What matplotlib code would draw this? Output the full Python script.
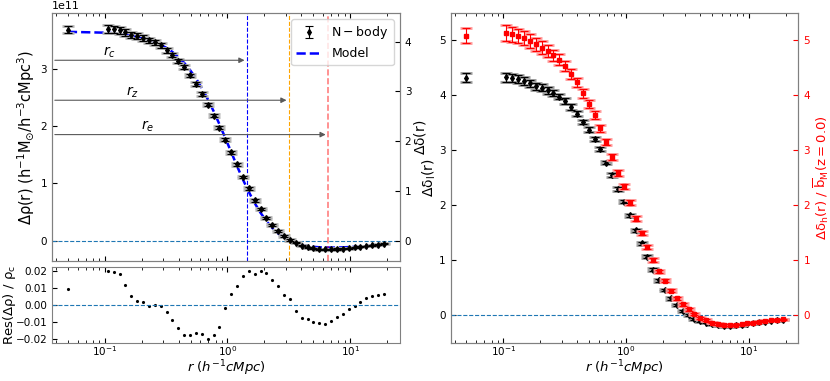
import matplotlib
matplotlib.use("Agg")
from matplotlib import pyplot as plt
from matplotlib.ticker import MultipleLocator

# radial bins (h^-1 cMpc)
r = [0.05, 0.1057, 0.1180, 0.1318, 0.1471, 0.1643, 0.1835, 0.2049, 0.2287, 0.2554,
     0.2852, 0.3184, 0.3556, 0.3970, 0.4433, 0.4950, 0.5528, 0.6172, 0.6892, 0.7696,
     0.8593, 0.9595, 1.0714, 1.1963, 1.3358, 1.4916, 1.6655, 1.8598, 2.0767, 2.3188,
     2.5892, 2.8912, 3.2284, 3.6048, 4.0252, 4.4946, 5.0187, 5.6040, 6.2575, 6.9872,
     7.8020, 8.7118, 9.7277, 10.862, 12.129, 13.543, 15.122, 16.886, 18.855]

# left panel: N-body profile, model, residuals (units of 1e11)
drho = [3.674, 3.69, 3.686, 3.67, 3.63, 3.59, 3.57, 3.53, 3.49, 3.46,
        3.41, 3.32, 3.24, 3.13, 3.02, 2.88, 2.73, 2.56, 2.37, 2.18,
        1.97, 1.76, 1.54, 1.33, 1.11, 0.913, 0.70, 0.55, 0.395, 0.267,
        0.169, 0.081, 0.012, -0.035, -0.087, -0.116, -0.134, -0.151, -0.151, -0.151,
        -0.145, -0.14, -0.134, -0.116, -0.11, -0.093, -0.081, -0.07, -0.052]
drho_err = [0.06, 0.065, 0.062, 0.06, 0.058, 0.055, 0.053, 0.05, 0.048, 0.046,
            0.044, 0.042, 0.04, 0.038, 0.036, 0.034, 0.032, 0.03, 0.029, 0.028,
            0.027, 0.026, 0.025, 0.024, 0.023, 0.022, 0.021, 0.02, 0.019, 0.018,
            0.017, 0.016, 0.015, 0.014, 0.013, 0.012, 0.012, 0.011, 0.011, 0.01,
            0.01, 0.01, 0.009, 0.009, 0.009, 0.008, 0.008, 0.008, 0.008]
model = [3.641, 3.625, 3.615, 3.603, 3.586, 3.568, 3.548, 3.524, 3.494, 3.458,
         3.414, 3.36, 3.29, 3.2, 3.1, 2.975, 2.83, 2.66, 2.47, 2.26,
         2.03, 1.79, 1.545, 1.3, 1.065, 0.85, 0.655, 0.485, 0.34, 0.22,
         0.125, 0.05, -0.005, -0.045, -0.075, -0.095, -0.108, -0.116, -0.12, -0.121,
         -0.12, -0.117, -0.113, -0.108, -0.102, -0.095, -0.088, -0.081, -0.074]
resid = [0.009, 0.0199, 0.0191, 0.018, 0.0114, 0.0054, 0.0024, 0.0013, -0.0006, -0.0004,
         -0.0009, -0.0045, -0.0088, -0.0135, -0.018, -0.018, -0.0165, -0.0173, -0.0203, -0.0178,
         -0.0128, -0.002, 0.0062, 0.0109, 0.0171, 0.0199, 0.0182, 0.0197, 0.0186, 0.0143,
         0.0107, 0.0058, 0.0034, -0.0034, -0.0075, -0.0086, -0.0099, -0.011, -0.0113, -0.0098,
         -0.0073, -0.0056, -0.0024, -0.0006, 0.0013, 0.0039, 0.0051, 0.0058, 0.0064]
rho_m = 0.8677e11
r_c, r_z, r_e = 1.45, 3.19, 6.65

# right panel
dd_l = [4.32, 4.33, 4.32, 4.30, 4.26, 4.22, 4.17, 4.14, 4.09, 4.05,
        3.98, 3.90, 3.79, 3.67, 3.52, 3.38, 3.21, 3.02, 2.78, 2.55,
        2.30, 2.07, 1.82, 1.55, 1.31, 1.07, 0.83, 0.64, 0.46, 0.31,
        0.19, 0.084, 0.012, -0.066, -0.10, -0.13, -0.16, -0.18, -0.19, -0.19,
        -0.18, -0.175, -0.15, -0.14, -0.12, -0.115, -0.10, -0.09, -0.08]
dd_l_err = [0.08, 0.08, 0.075, 0.072, 0.07, 0.067, 0.064, 0.061, 0.058, 0.055,
            0.052, 0.049, 0.046, 0.044, 0.042, 0.04, 0.038, 0.036, 0.034, 0.032,
            0.031, 0.03, 0.029, 0.028, 0.027, 0.026, 0.025, 0.024, 0.023, 0.022,
            0.021, 0.02, 0.019, 0.018, 0.017, 0.016, 0.015, 0.014, 0.013, 0.013,
            0.012, 0.012, 0.011, 0.011, 0.01, 0.01, 0.01, 0.01, 0.01]
dd_h = [5.09, 5.13, 5.11, 5.08, 5.04, 4.99, 4.93, 4.87, 4.80, 4.73,
        4.65, 4.54, 4.39, 4.24, 4.04, 3.85, 3.64, 3.40, 3.15, 2.88,
        2.59, 2.35, 2.05, 1.76, 1.50, 1.25, 1.00, 0.80, 0.63, 0.45,
        0.31, 0.20, 0.11, 0.02, -0.04, -0.09, -0.13, -0.16, -0.17, -0.17,
        -0.17, -0.16, -0.145, -0.13, -0.115, -0.10, -0.09, -0.08, -0.07]
dd_h_err = [0.145, 0.145, 0.14, 0.135, 0.13, 0.125, 0.12, 0.115, 0.11, 0.105,
            0.1, 0.095, 0.09, 0.085, 0.08, 0.075, 0.07, 0.065, 0.06, 0.056,
            0.052, 0.048, 0.045, 0.042, 0.04, 0.038, 0.035, 0.033, 0.03, 0.028,
            0.026, 0.024, 0.022, 0.02, 0.019, 0.018, 0.017, 0.016, 0.015, 0.014,
            0.013, 0.012, 0.012, 0.011, 0.011, 0.01, 0.01, 0.01, 0.01]

plt.rcParams["font.size"] = 8
plt.rcParams["axes.edgecolor"] = "0.5"
plt.rcParams["mathtext.default"] = "regular"

XLABEL = r"$\mathit{r\ (h^{-1}cMpc)}$"


def style(ax):
    ax.tick_params(which="both", direction="in", top=True, right=False, labelsize=7.5)
    ax.tick_params(axis="x", which="both", pad=1)


def errpoints(ax, x, y, e, color, light, marker):
    ax.errorbar(x, y, yerr=e, fmt="none", ecolor=light, elinewidth=0,
                capsize=4.5, capthick=2, zorder=3)
    return ax.errorbar(x, y, yerr=e, fmt=marker, color=color, ms=3, ecolor=color,
                       elinewidth=0.8, capsize=3, capthick=0.8, zorder=4)


fig = plt.figure(figsize=(8.3, 3.81), dpi=100)
ax1 = fig.add_axes([0.0627, 0.315, 0.419, 0.651])
ax2 = fig.add_axes([0.0627, 0.1, 0.419, 0.2], sharex=ax1)
ax3 = fig.add_axes([0.543, 0.1, 0.419, 0.866])

# --- main profile
drho_abs = [v * 1e11 for v in drho]
err_abs = [v * 1e11 for v in drho_err]
model_abs = [v * 1e11 for v in model]
ax1.set_xscale("log")
ax1.plot(r, model_abs, "--", color="blue", lw=1.8, zorder=2, label="Model")
nb = errpoints(ax1, r, drho_abs, err_abs, "black", "0.7", "d")
ax1.axhline(0, ls="--", color="tab:blue", lw=0.8)
ax1.axvline(r_c, ls="--", color="blue", lw=0.8)
ax1.axvline(r_z, ls="--", color="orange", lw=0.8)
ax1.axvline(r_e, ls="--", color="red", lw=1.2, alpha=0.5)
ylim1 = (-0.355e11, 3.97e11)
ax1.set_ylim(ylim1)
ax1.yaxis.set_major_locator(MultipleLocator(1e11))
for rv, yv, name, lx in [(r_c, 3.145e11, r"$\mathit{r_c}$", 0.096),
                         (r_z, 2.448e11, r"$\mathit{r_z}$", 0.148),
                         (r_e, 1.849e11, r"$\mathit{r_e}$", 0.198)]:
    ax1.annotate("", xy=(rv, yv), xytext=(0, yv), xycoords="data",
                 textcoords=("axes fraction", "data"),
                 arrowprops=dict(arrowstyle="-|>", color="0.35", lw=0.8))
    ax1.text(lx, yv + 0.01e11, name, fontsize=10, va="bottom")
ax1.set_ylabel(r"$\Delta\rho(r)\ (h^{-1}M_{\odot}/h^{-3}cMpc^{3})$", fontsize=10.5)
ax1.yaxis.set_label_coords(-0.042, 0.5)
plt.setp(ax1.get_xticklabels(), visible=False)
style(ax1)
ax1.legend([nb, ax1.lines[0]], [r"$N-body$", "Model"], loc="upper right", fontsize=9)

ax1r = ax1.twinx()
ax1r.set_ylim(ylim1[0] / rho_m, ylim1[1] / rho_m)
ax1r.tick_params(direction="in", labelsize=7.5)
ax1r.set_ylabel(r"$\Delta\delta(r)$", fontsize=10)
ax1r.yaxis.set_label_coords(1.034, 0.5)

# --- residuals
ax2.plot(r, resid, "k.", ms=2.5)
ax2.axhline(0, ls="--", color="tab:blue", lw=0.8)
ax2.set_ylim(-0.0224, 0.0223)
ax2.yaxis.set_major_locator(MultipleLocator(0.01))
ax2.set_xscale("log")
ax2.set_ylabel(r"$Res(\Delta\rho)\ /\ \rho_c$", fontsize=9.5)
ax2.yaxis.set_label_coords(-0.098, 0.5)
ax2.set_xlabel(XLABEL, fontsize=9.5)
ax2.xaxis.set_label_coords(0.5, -0.2)
style(ax2)

# --- right panel
ax3.set_xscale("log")
errpoints(ax3, r, dd_l, dd_l_err, "black", "0.6", "d")
ax3.axhline(0, ls="--", color="tab:blue", lw=0.8)
ax3.set_ylim(-0.5, 5.5)
ax3.set_ylabel(r"$\Delta\delta_{l}(r)$", fontsize=10)
ax3.yaxis.set_label_coords(-0.037, 0.5)
ax3.set_xlabel(XLABEL, fontsize=9.5)
ax3.xaxis.set_label_coords(0.5, -0.046)
style(ax3)
ax3r = ax3.twinx()
errpoints(ax3r, r, dd_h, dd_h_err, "red", "#ff9999", "s")
ax3r.set_ylim(-0.5, 5.5)
ax3r.tick_params(direction="in", labelsize=7.5, colors="red")
ax3r.set_ylabel(r"$\Delta\delta_{h}(r)\ /\ \overline{b}_{M}(z=0.0)$", color="red", fontsize=9.5)
ax3r.yaxis.set_label_coords(1.038, 0.5)
ax3.set_xlim(ax2.get_xlim())

fig.savefig("out.png", dpi=100)
